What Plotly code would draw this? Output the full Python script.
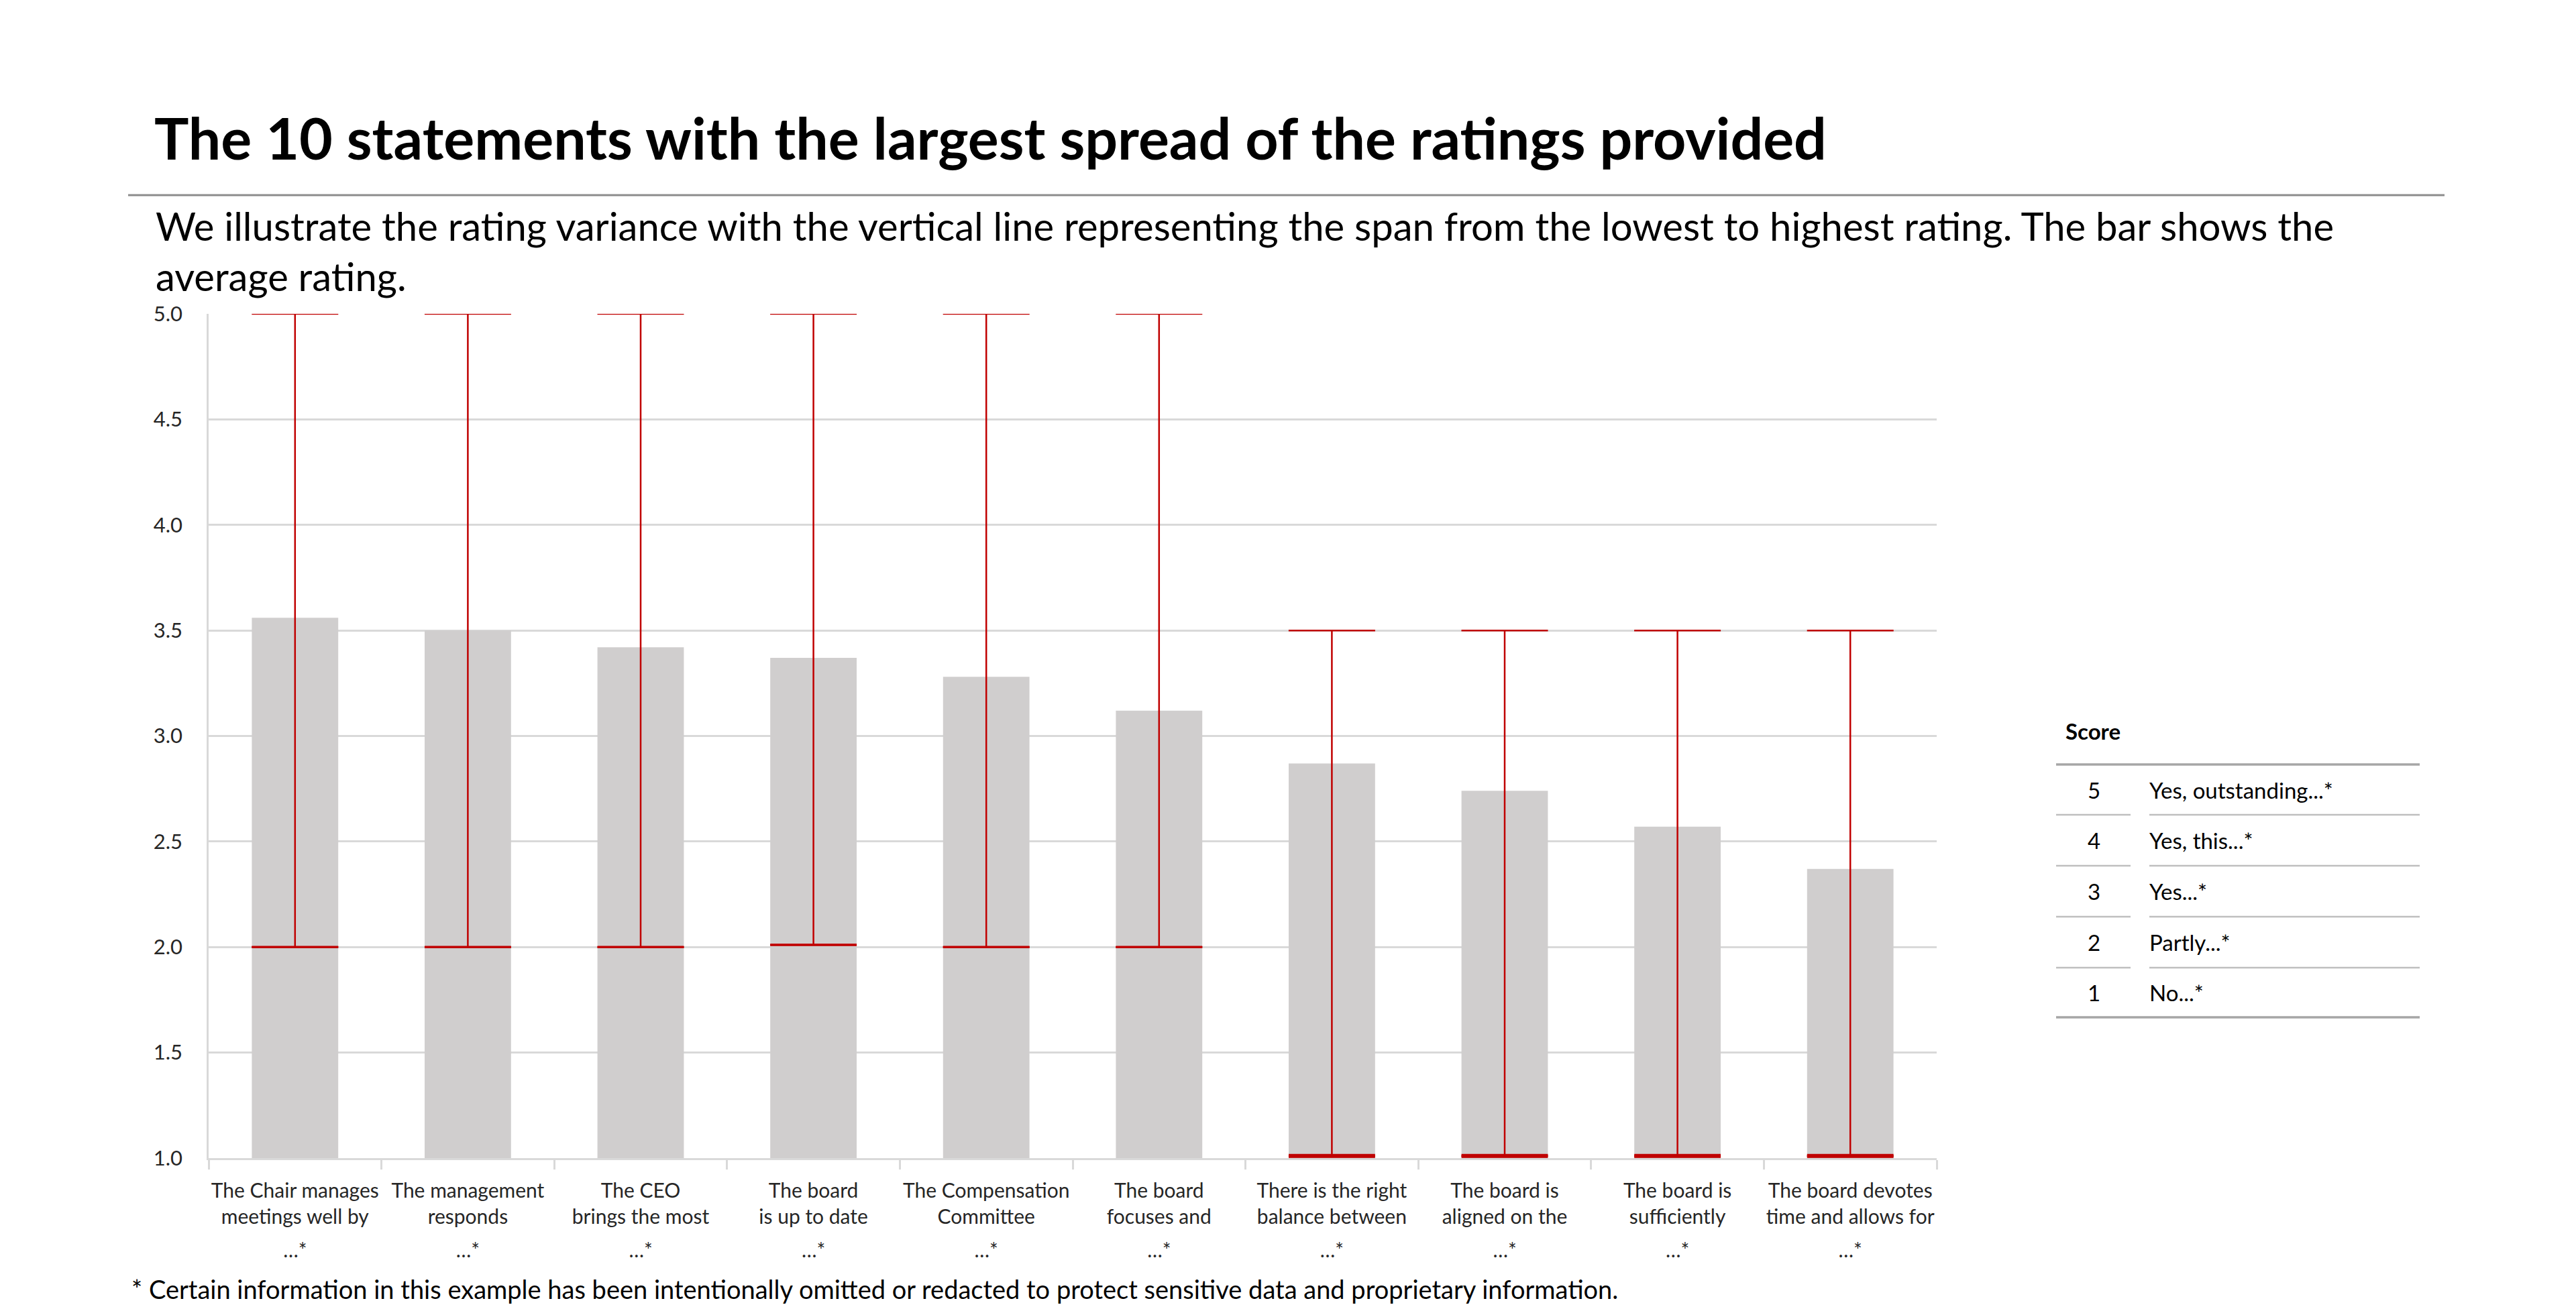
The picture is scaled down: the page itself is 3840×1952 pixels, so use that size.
import plotly.graph_objects as go

# ---------------- data ----------------
label_lines = [
    ["The Chair manages", "meetings well by"],
    ["The management", "responds"],
    ["The CEO", "brings the most"],
    ["The board", "is up to date"],
    ["The Compensation", "Committee"],
    ["The board", "focuses and"],
    ["There is the right", "balance between"],
    ["The board is", "aligned on the"],
    ["The board is", "sufficiently"],
    ["The board devotes", "time and allows for"],
]
label_tail = "…*"
avg_rating = [3.56, 3.50, 3.42, 3.37, 3.28, 3.12, 2.87, 2.74, 2.57, 2.37]
min_rating = [2.0, 2.0, 2.0, 2.01, 2.0, 2.0, 1.01, 1.01, 1.01, 1.01]
max_rating = [5.0, 5.0, 5.0, 5.0, 5.0, 5.0, 3.5, 3.5, 3.5, 3.5]

score_values = ["5", "4", "3", "2", "1"]
score_labels = ["Yes, outstanding...*", "Yes, this...*", "Yes...*", "Partly...*", "No...*"]

title_text = "The 10 statements with the largest spread of the ratings provided"
subtitle_lines = [
    "We illustrate the rating variance with the vertical line representing the span from the lowest to highest rating. The bar shows the",
    "average rating.",
]
footnote_text = "* Certain information in this example has been intentionally omitted or redacted to protect sensitive data and proprietary information."

categories = [
    "<br>".join(lines) + '<br><span style="baseline-shift:-11px">' + label_tail + "</span>"
    for lines in label_lines
]

# ---------------- layout geometry (screen pixel coordinates) ----------------
W, H = 3840, 1952
OFF = 8  # default page body margin
L, R, T, B = 311, 2887, 468, 1727
FONT = "Lato, 'Open Sans', sans-serif"
RED = "#c00000"
GRID = "#d9d9d9"
BARC = "#d0cece"


def X(px):
    return (px - L) / (R - L)


def Y(py):
    return (B - py) / (B - T)


err_plus = [mx - m for mx, m in zip(max_rating, avg_rating)]
err_minus = [m - mn for m, mn in zip(avg_rating, min_rating)]
low_cap_width = [6 if v < 1.5 else 3.5 for v in min_rating]

fig = go.Figure()
fig.add_trace(go.Bar(
    x=categories, y=avg_rating, marker=dict(color=BARC, line=dict(width=0)),
    hoverinfo="skip", showlegend=False,
))
fig.add_trace(go.Scatter(
    x=categories, y=avg_rating, mode="markers",
    marker=dict(size=1, opacity=0),
    error_y=dict(type="data", symmetric=False, array=err_plus, arrayminus=err_minus,
                 color=RED, thickness=2.5, width=64.5),
    cliponaxis=False, showlegend=False, hoverinfo="skip",
))
# emphasised lower whisker caps (line-ew length = 1.4 * size)
fig.add_trace(go.Scatter(
    x=categories, y=min_rating, mode="markers",
    marker=dict(symbol="line-ew", size=92, color=RED, line=dict(color=RED, width=low_cap_width)),
    cliponaxis=False, showlegend=False, hoverinfo="skip",
))

annotations = []
shapes = []

# title
annotations.append(dict(text="<b>" + title_text + "</b>", x=X(228), y=Y(204), xref="paper", yref="paper",
                        xanchor="left", yanchor="middle", showarrow=False,
                        font=dict(family=FONT, size=86, color="#000000")))
# rule under title
shapes.append(dict(type="line", xref="paper", yref="paper", x0=X(191), x1=X(3644), y0=Y(291), y1=Y(291),
                   line=dict(color="#8c8c8c", width=3)))
# subtitle (one paragraph, two lines)
annotations.append(dict(text="<br>".join(subtitle_lines), x=X(230), y=Y(374), xref="paper", yref="paper",
                        xanchor="left", yanchor="middle", align="left", showarrow=False,
                        font=dict(family=FONT, size=58, color="#000000")))
# footnote
annotations.append(dict(text=footnote_text, x=X(194), y=Y(1922), xref="paper", yref="paper",
                        xanchor="left", yanchor="middle", showarrow=False,
                        font=dict(family=FONT, size=38, color="#000000")))

# score table
annotations.append(dict(text="<b>Score</b>", x=X(3077), y=Y(1090), xref="paper", yref="paper",
                        xanchor="left", yanchor="middle", showarrow=False,
                        font=dict(family=FONT, size=33, color="#000000")))
row_lines = [1140, 1215, 1291, 1367, 1443, 1517]
for i, (v, lab) in enumerate(zip(score_values, score_labels)):
    yc = (row_lines[i] + row_lines[i + 1]) / 2
    annotations.append(dict(text=v, x=X(3121), y=Y(yc), xref="paper", yref="paper",
                            xanchor="center", yanchor="middle", showarrow=False,
                            font=dict(family=FONT, size=33, color="#000000")))
    annotations.append(dict(text=lab, x=X(3202), y=Y(yc), xref="paper", yref="paper",
                            xanchor="left", yanchor="middle", showarrow=False,
                            font=dict(family=FONT, size=33, color="#000000")))
for j, yl in enumerate(row_lines):
    if j == 0 or j == len(row_lines) - 1:
        shapes.append(dict(type="line", xref="paper", yref="paper", x0=X(3065), x1=X(3607),
                           y0=Y(yl), y1=Y(yl), line=dict(color="#a6a6a6", width=3.5)))
    else:
        shapes.append(dict(type="line", xref="paper", yref="paper", x0=X(3065), x1=X(3176),
                           y0=Y(yl), y1=Y(yl), line=dict(color="#bfbfbf", width=2.5)))
        shapes.append(dict(type="line", xref="paper", yref="paper", x0=X(3204), x1=X(3607),
                           y0=Y(yl), y1=Y(yl), line=dict(color="#bfbfbf", width=2.5)))

fig.update_layout(
    width=W, height=H,
    margin=dict(l=L - OFF, r=W - (R - OFF), t=T - OFF, b=H - (B - OFF), autoexpand=False),
    paper_bgcolor="white", plot_bgcolor="white",
    bargap=0.5,
    font=dict(family=FONT, size=30, color="#262626"),
    annotations=annotations, shapes=shapes,
    xaxis=dict(
        range=[-0.5, len(categories) - 0.5], autorange=False,
        showgrid=False, showline=True, linecolor=GRID, linewidth=3,
        ticks="outside", tickson="boundaries", ticklen=14, tickcolor=GRID, tickwidth=2.5,
        tickangle=0,
        tickfont=dict(family=FONT, size=30, color="#262626"),
        ticklabelstandoff=20,
    ),
    yaxis=dict(
        range=[1, 5], dtick=0.5, tick0=1, tickformat=".1f",
        showgrid=True, gridcolor=GRID, gridwidth=2.5,
        showline=True, linecolor=GRID, linewidth=2.5, zeroline=False,
        ticks="", ticklabelstandoff=30,
        tickfont=dict(family=FONT, size=31, color="#262626"),
    ),
)

fig.write_html("out.html")
